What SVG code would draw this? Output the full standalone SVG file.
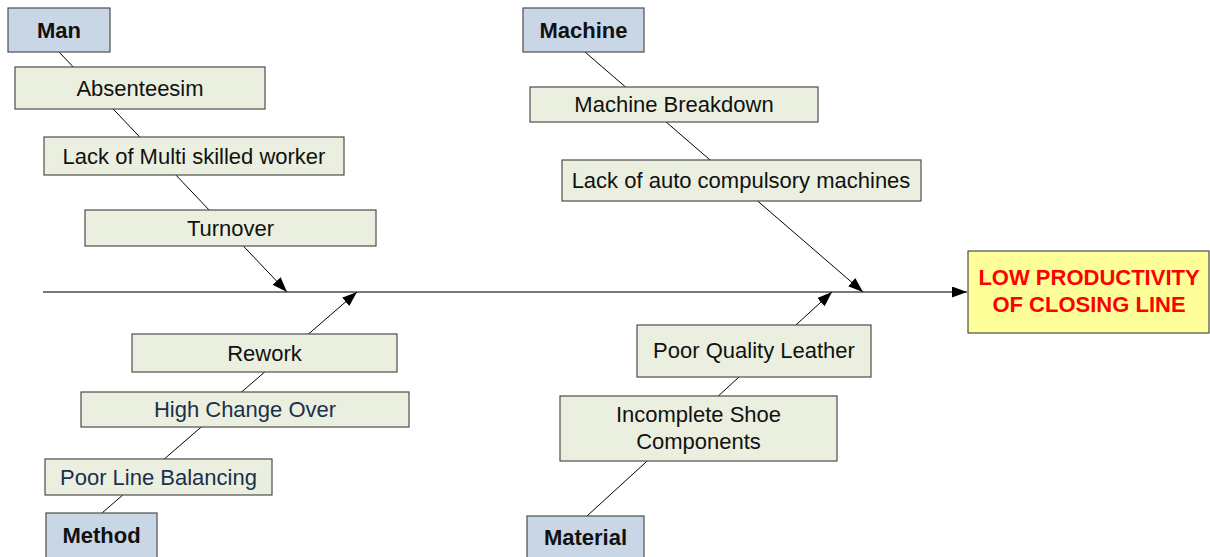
<svg xmlns="http://www.w3.org/2000/svg" width="1210" height="557" viewBox="0 0 1210 557">
  <style>
    .hdr { fill: #c8d6e6; stroke: #4d4d4d; stroke-width: 1.2; }
    .cause { fill: #ebefdf; stroke: #4d4d4d; stroke-width: 1.2; }
    .effect { fill: #ffff99; stroke: #4d4d4d; stroke-width: 1.2; }
    text { font-family: "Liberation Sans", Arial, sans-serif; font-size: 22px; text-anchor: middle; fill: #111; }
    .bold { font-weight: bold; }
    .navy { fill: #1b2f4e; }
    .red { fill: #ff0000; font-weight: bold; }
    .bone { stroke: #000; stroke-width: 1; fill: none; }
    .spine { stroke: #7a7a7a; stroke-width: 2; fill: none; }
  </style>
  <defs>
    <marker id="arrow" markerUnits="userSpaceOnUse" markerWidth="15" markerHeight="11" refX="15" refY="5.5" orient="auto">
      <path d="M0,0 L15,5.5 L0,11 z" fill="#000"/>
    </marker>
  </defs>
  <rect width="1210" height="557" fill="#fff"/>

  <!-- spine and category bones -->
  <g id="connectors">
    <line class="spine" x1="43" y1="292" x2="967" y2="292" marker-end="url(#arrow)"/>
    <line class="bone" x1="59" y1="52" x2="287" y2="292" marker-end="url(#arrow)"/>
    <line class="bone" x1="585" y1="52" x2="863" y2="292" marker-end="url(#arrow)"/>
    <line class="bone" x1="102" y1="513" x2="357" y2="292" marker-end="url(#arrow)"/>
    <line class="bone" x1="587" y1="516" x2="832" y2="292" marker-end="url(#arrow)"/>
  </g>

  <!-- Man -->
  <g id="man">
    <rect class="hdr" x="8" y="8" width="102" height="44"/>
    <text class="bold" x="59" y="37.5">Man</text>
  </g>
  <g id="absenteeism">
    <rect class="cause" x="15" y="67" width="250" height="42"/>
    <text x="140" y="95.5">Absenteesim</text>
  </g>
  <g id="multi-skill">
    <rect class="cause" x="44" y="137" width="300" height="38"/>
    <text x="194" y="163.5">Lack of Multi skilled worker</text>
  </g>
  <g id="turnover">
    <rect class="cause" x="85" y="210" width="291" height="36"/>
    <text x="230.5" y="235.5">Turnover</text>
  </g>

  <!-- Machine -->
  <g id="machine">
    <rect class="hdr" x="523" y="8" width="121" height="44"/>
    <text class="bold" x="583.5" y="37.5">Machine</text>
  </g>
  <g id="breakdown">
    <rect class="cause" x="530" y="87" width="288" height="35"/>
    <text x="674" y="111.5">Machine Breakdown</text>
  </g>
  <g id="auto-machines">
    <rect class="cause" x="562" y="160" width="359" height="41"/>
    <text x="741" y="188">Lack of auto compulsory machines</text>
  </g>

  <!-- Method -->
  <g id="rework">
    <rect class="cause" x="132" y="334" width="265" height="38"/>
    <text x="264.5" y="360.5">Rework</text>
  </g>
  <g id="changeover">
    <rect class="cause" x="81" y="392" width="328" height="35"/>
    <text class="navy" x="245" y="417">High Change Over</text>
  </g>
  <g id="line-balancing">
    <rect class="cause" x="45" y="459" width="227" height="36"/>
    <text class="navy" x="158.5" y="484.5">Poor Line Balancing</text>
  </g>
  <g id="method">
    <rect class="hdr" x="46" y="513" width="111" height="50"/>
    <text class="bold" x="101.5" y="542.5">Method</text>
  </g>

  <!-- Material -->
  <g id="leather">
    <rect class="cause" x="637" y="325" width="234" height="52"/>
    <text x="754" y="358">Poor Quality Leather</text>
  </g>
  <g id="components">
    <rect class="cause" x="560" y="396" width="277" height="65"/>
    <text x="698.5" y="421.5">Incomplete Shoe</text>
    <text x="698.5" y="448.5">Components</text>
  </g>
  <g id="material">
    <rect class="hdr" x="527" y="516" width="117" height="50"/>
    <text class="bold" x="585.5" y="545">Material</text>
  </g>

  <!-- Effect -->
  <g id="effect">
    <rect class="effect" x="968" y="251" width="241" height="82"/>
    <text class="red" x="1089" y="284.5">LOW PRODUCTIVITY</text>
    <text class="red" x="1089" y="312">OF CLOSING LINE</text>
  </g>
</svg>
